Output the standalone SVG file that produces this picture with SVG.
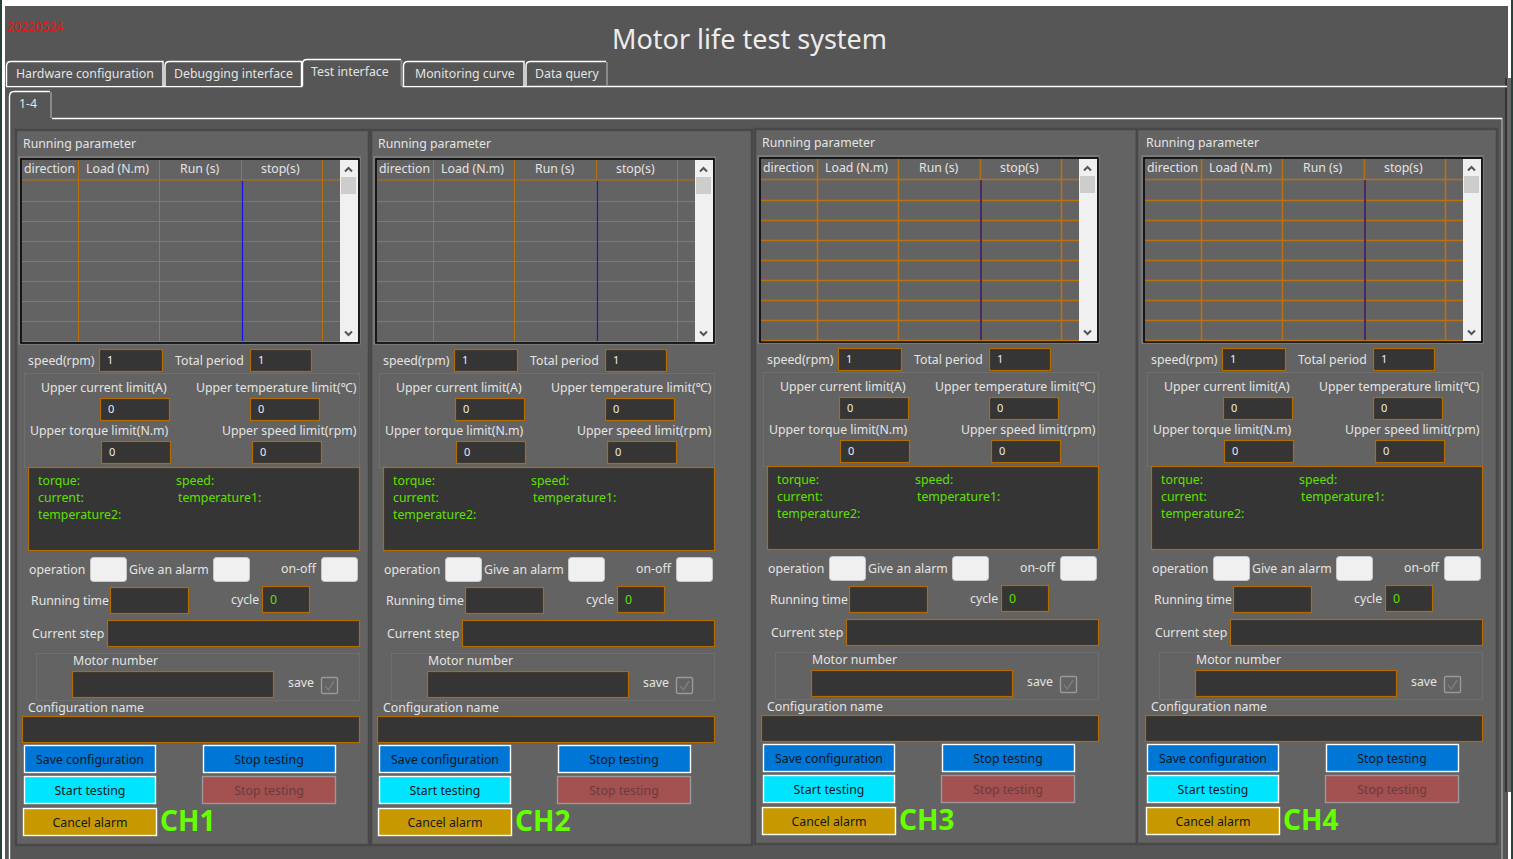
<svg xmlns="http://www.w3.org/2000/svg" width="1513" height="859" viewBox="0 0 1513 859">
<style>
text{font-family:"Noto Sans","Open Sans","Liberation Sans",sans-serif;font-size:12.3px;fill:#e4e4e4}
.tab{fill:#565656;stroke:#fff;stroke-width:1.4}
.ln{stroke:#fff;stroke-width:1.4;fill:none}
.gr{stroke:#8a8a8a;stroke-width:2;fill:none}
.panel{fill:#636363;stroke:#484848;stroke-width:2.5}
.frame{fill:#636363;stroke:#000;stroke-width:1.5}
.frame2{fill:none;stroke:#808080;stroke-width:1.5}
.sb{fill:#f0f0f0}.th{fill:#cdcdcd}
.chev{fill:none;stroke:#555;stroke-width:2}
.o{stroke:#b87010;stroke-width:1}
.o2{stroke:#b87010;stroke-width:1.6}
.f{fill:#353535;stroke:#b36b00;stroke-width:1.2}
.box{fill:none;stroke:#6e6e6e;stroke-width:1}
.lamp{fill:#f0f0f0;stroke:#c8c8c8;stroke-width:1}
.g{fill:#5fe000}
.b{stroke:#fff;stroke-width:1.4}
.blue{fill:#0076d6}.cy{fill:#00e5ff}.am{fill:#c89800}
.dis{fill:#a35050;stroke:#999;stroke-width:1.4}
.bt{fill:#101820;text-anchor:middle}
.bd{fill:#6b3c3c;text-anchor:middle}
.ck{fill:none;stroke:#999;stroke-width:1.4}
.cm{fill:none;stroke:#7c7c7c;stroke-width:1.6}
.ch{font-size:28px;font-weight:bold;fill:#66ff00}
.v{fill:#eee;font-size:11px}
</style>
<rect width="1513" height="859" fill="#fff"/>
<rect x="5" y="6" width="1503" height="853" fill="#565656"/>
<rect x="1505" y="78" width="2" height="714" fill="#333"/>
<rect x="1507" y="78" width="4" height="714" fill="#666"/>
<rect x="1511" y="0" width="2" height="859" fill="#28443a"/>
<rect x="0" y="0" width="2" height="859" fill="#28443a"/>
<g id="header">
<text x="7" y="31" style="fill:#e81414">20220524</text>
<text x="612" y="49" style="font-size:27px;fill:#ececec">Motor life test system</text>
</g>
<g id="tabs">
<path class="ln" d="M6 86.500H302.500M402.500 86.500H1507"/>
<path class="tab" d="M6.500 86V66Q6.500 61.500 11 61.500H163V86"/>
<path class="tab" d="M165 86V66Q165 61.500 169.500 61.500H301.500V86"/>
<path class="tab" d="M302.500 86V64Q302.500 59.500 307 59.500H401"/>
<path class="gr" d="M401.500 60V86"/>
<path class="tab" d="M403.500 86V66Q403.500 61.500 408 61.500H524V86"/>
<path class="tab" d="M526 86V66Q526 61.500 530.500 61.500H606"/>
<path class="gr" d="M607 62V86"/>
<text x="16" y="78">Hardware configuration</text>
<text x="174" y="78">Debugging interface</text>
<text x="311" y="76">Test interface</text>
<text x="415" y="78">Monitoring curve</text>
<text x="535" y="78">Data query</text>
<path class="ln" d="M9.500 859V97Q9.500 91.500 14 91.500H50"/>
<path class="gr" d="M51 92V118M1502 118V859"/>
<path class="ln" d="M52 118.500H1502"/>
<text x="19" y="108">1-4</text>
</g>
<g id="ch1">
<rect class="panel" x="16" y="130" width="353" height="715"/>
<text x="23" y="148">Running parameter</text>
<rect class="frame2" x="19" y="157" width="341" height="187"/><rect class="frame" x="21" y="159" width="338" height="184"/>
<path class="o" d="M22 180H340M22 201.500H340M22 221.500H340M22 241.500H340M22 261.500H340M22 281.500H340M22 301.500H340M22 321.500H340M22 341.500H340M78.500 160V341M159.500 160V341M241.500 160V180M322.500 160V341"/>
<path stroke="#1414e6" stroke-width="1.2" d="M242.500 181V341"/>
<rect class="sb" x="340" y="160" width="18" height="182"/><rect class="th" x="341" y="177" width="15" height="17"/><path class="chev" d="M345 171.500L348.500 168L352 171.500M345 331.500L348.500 335L352 331.500"/>
<text x="24" y="173">direction</text><text x="86" y="173">Load (N.m)</text><text x="180" y="173">Run (s)</text><text x="261" y="173">stop(s)</text>
<text x="28" y="365">speed(rpm)</text><rect class="f" x="99.500" y="349.500" width="63" height="22"/><text class="v" x="107" y="364">1</text>
<text x="175" y="365">Total period</text><rect class="f" x="250.500" y="349.500" width="61" height="22"/><text class="v" x="258" y="364">1</text>
<rect class="box" x="24.500" y="373.500" width="335" height="94"/>
<text x="41" y="392">Upper current limit(A)</text><text x="196" y="392">Upper temperature limit(℃)</text>
<rect class="f" x="100.500" y="398.500" width="69" height="22"/><text class="v" x="108" y="413">0</text>
<rect class="f" x="250.500" y="398.500" width="69" height="22"/><text class="v" x="258" y="413">0</text>
<text x="30" y="435">Upper torque limit(N.m)</text><text x="222" y="435">Upper speed limit(rpm)</text>
<rect class="f" x="101.500" y="441.500" width="69" height="22"/><text class="v" x="109" y="456">0</text>
<rect class="f" x="252.500" y="441.500" width="69" height="22"/><text class="v" x="260" y="456">0</text>
<rect class="f" x="28.500" y="467.500" width="331" height="83"/>
<text class="g" x="38" y="485">torque:</text><text class="g" x="176" y="485">speed:</text><text class="g" x="38" y="502">current:</text><text class="g" x="178" y="502">temperature1:</text><text class="g" x="38" y="519">temperature2:</text>
<text x="29" y="574">operation</text><rect class="lamp" x="90.500" y="557.500" width="36" height="24" rx="3"/>
<text x="129" y="574">Give an alarm</text><rect class="lamp" x="213.500" y="557.500" width="36" height="24" rx="3"/>
<text x="281" y="573">on-off</text><rect class="lamp" x="321.500" y="557.500" width="36" height="24" rx="3"/>
<text x="31" y="605">Running time</text><rect class="f" x="110.500" y="587.500" width="78" height="26"/>
<text x="231" y="604">cycle</text><rect class="f" x="262.500" y="586.500" width="47" height="26"/><text class="g" x="270" y="604">0</text>
<text x="32" y="638">Current step</text><rect class="f" x="107.500" y="620.500" width="252" height="26"/>
<rect class="box" x="36.500" y="653.500" width="323" height="47"/>
<text x="73" y="665">Motor number</text><rect class="f" x="72.500" y="671.500" width="201" height="26"/>
<text x="288" y="687">save</text><rect class="ck" x="321.500" y="677.500" width="16" height="16" rx="1.500"/><path class="cm" d="M325 686L328.500 690L334 681"/>
<text x="28" y="712">Configuration name</text><rect class="f" x="22.500" y="716.500" width="337" height="26"/>
<rect class="blue b" x="24.500" y="745.500" width="131" height="27"/><text class="bt" x="90" y="764">Save configuration</text>
<rect class="blue b" x="203.500" y="745.500" width="132" height="27"/><text class="bt" x="269" y="764">Stop testing</text>
<rect class="cy b" x="24.500" y="776.500" width="131" height="27"/><text class="bt" x="90" y="795">Start testing</text>
<rect class="dis" x="202.500" y="776.500" width="133" height="27"/><text class="bd" x="269" y="795">Stop testing</text>
<rect class="am b" x="23.500" y="808.500" width="133" height="27"/><text class="bt" x="90" y="827">Cancel alarm</text>
<text class="ch" x="160" y="831">CH1</text>
</g>
<g id="ch2" transform="translate(355 0)">
<rect class="panel" x="16" y="130" width="381" height="715"/>
<text x="23" y="148">Running parameter</text>
<rect class="frame2" x="19" y="157" width="341" height="187"/><rect class="frame" x="21" y="159" width="338" height="184"/>
<path class="o" d="M22 180H340M22 201.500H340M22 221.500H340M22 241.500H340M22 261.500H340M22 281.500H340M22 301.500H340M22 321.500H340M22 341.500H340M78.500 160V341M159.500 160V341M241.500 160V180M322.500 160V341"/>
<path stroke="#1414e6" stroke-width="1.2" d="M242.500 181V341"/>
<rect class="sb" x="340" y="160" width="18" height="182"/><rect class="th" x="341" y="177" width="15" height="17"/><path class="chev" d="M345 171.500L348.500 168L352 171.500M345 331.500L348.500 335L352 331.500"/>
<text x="24" y="173">direction</text><text x="86" y="173">Load (N.m)</text><text x="180" y="173">Run (s)</text><text x="261" y="173">stop(s)</text>
<text x="28" y="365">speed(rpm)</text><rect class="f" x="99.500" y="349.500" width="63" height="22"/><text class="v" x="107" y="364">1</text>
<text x="175" y="365">Total period</text><rect class="f" x="250.500" y="349.500" width="61" height="22"/><text class="v" x="258" y="364">1</text>
<rect class="box" x="24.500" y="373.500" width="335" height="94"/>
<text x="41" y="392">Upper current limit(A)</text><text x="196" y="392">Upper temperature limit(℃)</text>
<rect class="f" x="100.500" y="398.500" width="69" height="22"/><text class="v" x="108" y="413">0</text>
<rect class="f" x="250.500" y="398.500" width="69" height="22"/><text class="v" x="258" y="413">0</text>
<text x="30" y="435">Upper torque limit(N.m)</text><text x="222" y="435">Upper speed limit(rpm)</text>
<rect class="f" x="101.500" y="441.500" width="69" height="22"/><text class="v" x="109" y="456">0</text>
<rect class="f" x="252.500" y="441.500" width="69" height="22"/><text class="v" x="260" y="456">0</text>
<rect class="f" x="28.500" y="467.500" width="331" height="83"/>
<text class="g" x="38" y="485">torque:</text><text class="g" x="176" y="485">speed:</text><text class="g" x="38" y="502">current:</text><text class="g" x="178" y="502">temperature1:</text><text class="g" x="38" y="519">temperature2:</text>
<text x="29" y="574">operation</text><rect class="lamp" x="90.500" y="557.500" width="36" height="24" rx="3"/>
<text x="129" y="574">Give an alarm</text><rect class="lamp" x="213.500" y="557.500" width="36" height="24" rx="3"/>
<text x="281" y="573">on-off</text><rect class="lamp" x="321.500" y="557.500" width="36" height="24" rx="3"/>
<text x="31" y="605">Running time</text><rect class="f" x="110.500" y="587.500" width="78" height="26"/>
<text x="231" y="604">cycle</text><rect class="f" x="262.500" y="586.500" width="47" height="26"/><text class="g" x="270" y="604">0</text>
<text x="32" y="638">Current step</text><rect class="f" x="107.500" y="620.500" width="252" height="26"/>
<rect class="box" x="36.500" y="653.500" width="323" height="47"/>
<text x="73" y="665">Motor number</text><rect class="f" x="72.500" y="671.500" width="201" height="26"/>
<text x="288" y="687">save</text><rect class="ck" x="321.500" y="677.500" width="16" height="16" rx="1.500"/><path class="cm" d="M325 686L328.500 690L334 681"/>
<text x="28" y="712">Configuration name</text><rect class="f" x="22.500" y="716.500" width="337" height="26"/>
<rect class="blue b" x="24.500" y="745.500" width="131" height="27"/><text class="bt" x="90" y="764">Save configuration</text>
<rect class="blue b" x="203.500" y="745.500" width="132" height="27"/><text class="bt" x="269" y="764">Stop testing</text>
<rect class="cy b" x="24.500" y="776.500" width="131" height="27"/><text class="bt" x="90" y="795">Start testing</text>
<rect class="dis" x="202.500" y="776.500" width="133" height="27"/><text class="bd" x="269" y="795">Stop testing</text>
<rect class="am b" x="23.500" y="808.500" width="133" height="27"/><text class="bt" x="90" y="827">Cancel alarm</text>
<text class="ch" x="160" y="831">CH2</text>
</g>
<g id="ch3" transform="translate(739 -1)">
<rect class="panel" x="16" y="130" width="382" height="715"/>
<text x="23" y="148">Running parameter</text>
<rect class="frame2" x="19" y="157" width="341" height="187"/><rect class="frame" x="21" y="159" width="338" height="184"/>
<path class="o2" d="M22 180.500H340M22 201.500H340M22 221.500H340M22 241.500H340M22 261.500H340M22 281.500H340M22 301.500H340M22 321.500H340M22 341.500H340M78.500 160V341M159.500 160V341M241.500 160V180M322.500 160V341"/>
<path stroke="#4a2a60" stroke-width="2" d="M242 181V341"/>
<rect class="sb" x="340" y="160" width="18" height="182"/><rect class="th" x="341" y="177" width="15" height="17"/><path class="chev" d="M345 171.500L348.500 168L352 171.500M345 331.500L348.500 335L352 331.500"/>
<text x="24" y="173">direction</text><text x="86" y="173">Load (N.m)</text><text x="180" y="173">Run (s)</text><text x="261" y="173">stop(s)</text>
<text x="28" y="365">speed(rpm)</text><rect class="f" x="99.500" y="349.500" width="63" height="22"/><text class="v" x="107" y="364">1</text>
<text x="175" y="365">Total period</text><rect class="f" x="250.500" y="349.500" width="61" height="22"/><text class="v" x="258" y="364">1</text>
<rect class="box" x="24.500" y="373.500" width="335" height="94"/>
<text x="41" y="392">Upper current limit(A)</text><text x="196" y="392">Upper temperature limit(℃)</text>
<rect class="f" x="100.500" y="398.500" width="69" height="22"/><text class="v" x="108" y="413">0</text>
<rect class="f" x="250.500" y="398.500" width="69" height="22"/><text class="v" x="258" y="413">0</text>
<text x="30" y="435">Upper torque limit(N.m)</text><text x="222" y="435">Upper speed limit(rpm)</text>
<rect class="f" x="101.500" y="441.500" width="69" height="22"/><text class="v" x="109" y="456">0</text>
<rect class="f" x="252.500" y="441.500" width="69" height="22"/><text class="v" x="260" y="456">0</text>
<rect class="f" x="28.500" y="467.500" width="331" height="83"/>
<text class="g" x="38" y="485">torque:</text><text class="g" x="176" y="485">speed:</text><text class="g" x="38" y="502">current:</text><text class="g" x="178" y="502">temperature1:</text><text class="g" x="38" y="519">temperature2:</text>
<text x="29" y="574">operation</text><rect class="lamp" x="90.500" y="557.500" width="36" height="24" rx="3"/>
<text x="129" y="574">Give an alarm</text><rect class="lamp" x="213.500" y="557.500" width="36" height="24" rx="3"/>
<text x="281" y="573">on-off</text><rect class="lamp" x="321.500" y="557.500" width="36" height="24" rx="3"/>
<text x="31" y="605">Running time</text><rect class="f" x="110.500" y="587.500" width="78" height="26"/>
<text x="231" y="604">cycle</text><rect class="f" x="262.500" y="586.500" width="47" height="26"/><text class="g" x="270" y="604">0</text>
<text x="32" y="638">Current step</text><rect class="f" x="107.500" y="620.500" width="252" height="26"/>
<rect class="box" x="36.500" y="653.500" width="323" height="47"/>
<text x="73" y="665">Motor number</text><rect class="f" x="72.500" y="671.500" width="201" height="26"/>
<text x="288" y="687">save</text><rect class="ck" x="321.500" y="677.500" width="16" height="16" rx="1.500"/><path class="cm" d="M325 686L328.500 690L334 681"/>
<text x="28" y="712">Configuration name</text><rect class="f" x="22.500" y="716.500" width="337" height="26"/>
<rect class="blue b" x="24.500" y="745.500" width="131" height="27"/><text class="bt" x="90" y="764">Save configuration</text>
<rect class="blue b" x="203.500" y="745.500" width="132" height="27"/><text class="bt" x="269" y="764">Stop testing</text>
<rect class="cy b" x="24.500" y="776.500" width="131" height="27"/><text class="bt" x="90" y="795">Start testing</text>
<rect class="dis" x="202.500" y="776.500" width="133" height="27"/><text class="bd" x="269" y="795">Stop testing</text>
<rect class="am b" x="23.500" y="808.500" width="133" height="27"/><text class="bt" x="90" y="827">Cancel alarm</text>
<text class="ch" x="160" y="831">CH3</text>
</g>
<g id="ch4" transform="translate(1123 -1)">
<rect class="panel" x="14" y="130" width="360" height="715"/>
<text x="23" y="148">Running parameter</text>
<rect class="frame2" x="19" y="157" width="341" height="187"/><rect class="frame" x="21" y="159" width="338" height="184"/>
<path class="o2" d="M22 180.500H340M22 201.500H340M22 221.500H340M22 241.500H340M22 261.500H340M22 281.500H340M22 301.500H340M22 321.500H340M22 341.500H340M78.500 160V341M159.500 160V341M241.500 160V180M322.500 160V341"/>
<path stroke="#4a2a60" stroke-width="2" d="M242 181V341"/>
<rect class="sb" x="340" y="160" width="18" height="182"/><rect class="th" x="341" y="177" width="15" height="17"/><path class="chev" d="M345 171.500L348.500 168L352 171.500M345 331.500L348.500 335L352 331.500"/>
<text x="24" y="173">direction</text><text x="86" y="173">Load (N.m)</text><text x="180" y="173">Run (s)</text><text x="261" y="173">stop(s)</text>
<text x="28" y="365">speed(rpm)</text><rect class="f" x="99.500" y="349.500" width="63" height="22"/><text class="v" x="107" y="364">1</text>
<text x="175" y="365">Total period</text><rect class="f" x="250.500" y="349.500" width="61" height="22"/><text class="v" x="258" y="364">1</text>
<rect class="box" x="24.500" y="373.500" width="335" height="94"/>
<text x="41" y="392">Upper current limit(A)</text><text x="196" y="392">Upper temperature limit(℃)</text>
<rect class="f" x="100.500" y="398.500" width="69" height="22"/><text class="v" x="108" y="413">0</text>
<rect class="f" x="250.500" y="398.500" width="69" height="22"/><text class="v" x="258" y="413">0</text>
<text x="30" y="435">Upper torque limit(N.m)</text><text x="222" y="435">Upper speed limit(rpm)</text>
<rect class="f" x="101.500" y="441.500" width="69" height="22"/><text class="v" x="109" y="456">0</text>
<rect class="f" x="252.500" y="441.500" width="69" height="22"/><text class="v" x="260" y="456">0</text>
<rect class="f" x="28.500" y="467.500" width="331" height="83"/>
<text class="g" x="38" y="485">torque:</text><text class="g" x="176" y="485">speed:</text><text class="g" x="38" y="502">current:</text><text class="g" x="178" y="502">temperature1:</text><text class="g" x="38" y="519">temperature2:</text>
<text x="29" y="574">operation</text><rect class="lamp" x="90.500" y="557.500" width="36" height="24" rx="3"/>
<text x="129" y="574">Give an alarm</text><rect class="lamp" x="213.500" y="557.500" width="36" height="24" rx="3"/>
<text x="281" y="573">on-off</text><rect class="lamp" x="321.500" y="557.500" width="36" height="24" rx="3"/>
<text x="31" y="605">Running time</text><rect class="f" x="110.500" y="587.500" width="78" height="26"/>
<text x="231" y="604">cycle</text><rect class="f" x="262.500" y="586.500" width="47" height="26"/><text class="g" x="270" y="604">0</text>
<text x="32" y="638">Current step</text><rect class="f" x="107.500" y="620.500" width="252" height="26"/>
<rect class="box" x="36.500" y="653.500" width="323" height="47"/>
<text x="73" y="665">Motor number</text><rect class="f" x="72.500" y="671.500" width="201" height="26"/>
<text x="288" y="687">save</text><rect class="ck" x="321.500" y="677.500" width="16" height="16" rx="1.500"/><path class="cm" d="M325 686L328.500 690L334 681"/>
<text x="28" y="712">Configuration name</text><rect class="f" x="22.500" y="716.500" width="337" height="26"/>
<rect class="blue b" x="24.500" y="745.500" width="131" height="27"/><text class="bt" x="90" y="764">Save configuration</text>
<rect class="blue b" x="203.500" y="745.500" width="132" height="27"/><text class="bt" x="269" y="764">Stop testing</text>
<rect class="cy b" x="24.500" y="776.500" width="131" height="27"/><text class="bt" x="90" y="795">Start testing</text>
<rect class="dis" x="202.500" y="776.500" width="133" height="27"/><text class="bd" x="269" y="795">Stop testing</text>
<rect class="am b" x="23.500" y="808.500" width="133" height="27"/><text class="bt" x="90" y="827">Cancel alarm</text>
<text class="ch" x="160" y="831">CH4</text>
</g>
</svg>
